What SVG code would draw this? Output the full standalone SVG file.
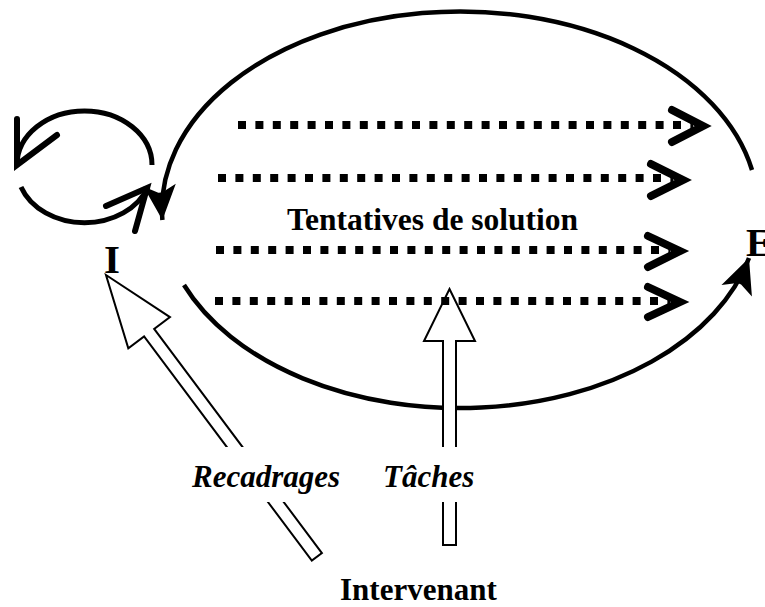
<svg xmlns="http://www.w3.org/2000/svg" width="765" height="607" viewBox="0 0 765 607">
<defs>
<style>
.arc{fill:none;stroke:#000;stroke-width:4.5}
.loop{fill:none;stroke:#000;stroke-width:5}
.barb{fill:none;stroke:#000;stroke-width:6;stroke-linecap:round}
.dots{fill:none;stroke:#000;stroke-width:8;stroke-dasharray:8 9.4}
.chev{fill:none;stroke:#000;stroke-width:8;stroke-linecap:round;stroke-linejoin:miter}
.hollow{fill:#fff;stroke:#000;stroke-width:2;stroke-linejoin:miter}
.lbl{font-family:"Liberation Serif","Times New Roman",serif;font-weight:bold;fill:#000}
.it{font-style:italic}
</style>
<marker id="stealth" markerUnits="userSpaceOnUse" markerWidth="40" markerHeight="40" refX="0" refY="0" viewBox="-30 -16 32 32" orient="auto" overflow="visible">
<path d="M0,0 L-28,-13 L-22,-1.5 L-22,1.5 L-28,13 Z" fill="#000"/>
</marker>
</defs>
<g id="connectors">
<path id="ellipse-top" class="arc" d="M 752 170 A 298 198 0 0 0 162.4 220" marker-end="url(#stealth)"/>
<path id="ellipse-bottom" class="arc" d="M 184 285 A 298 198 0 0 0 749 258" marker-end="url(#stealth)"/>
<g id="loop">
<path class="loop" d="M 152 165 A 67.5 54 0 0 0 17 165"/>
<path class="barb" d="M 17 119 L 17 165 L 57 135"/>
<path class="loop" d="M 21 187 A 67.5 54 0 0 0 148 187"/>
<path class="barb" d="M 106 206 L 147 188 L 135 231"/>
</g>
<g id="arrow-recadrages" transform="translate(106 275) rotate(-36.8)">
<polygon class="hollow" points="0,0 26,72 6.3,72 6.3,352 -6.3,352 -6.3,72 -26,72"/>
</g>
<g id="arrow-taches">
<polygon class="hollow" points="449.5,289 475,341 456,341 456,545 443,545 443,341 424,341"/>
</g>
<rect x="180" y="447" width="310" height="55" fill="#fff"/>
<g id="tentatives">
<path class="dots" d="M 238 125 H 693"/>
<path class="chev" d="M 672 110 L 703 126 L 672 142"/>
<path class="dots" d="M 218 178 H 673"/>
<path class="chev" d="M 651 164 L 683 180 L 651 196"/>
<path class="dots" d="M 216 250 H 670"/>
<path class="chev" d="M 648 236 L 680 251 L 648 267"/>
<path class="dots" d="M 215 301 H 670"/>
<path class="chev" d="M 648 287 L 680 302 L 648 317"/>
</g>
</g>
<g id="node-I"><text class="lbl" x="104" y="273" font-size="41">I</text></g>
<g id="node-E"><text class="lbl" x="746" y="256" font-size="40">E</text></g>
<g id="node-tentatives"><text class="lbl" x="287" y="230" font-size="31.5">Tentatives de solution</text></g>
<g id="node-recadrages"><text class="lbl it" x="192" y="487" font-size="31">Recadrages</text></g>
<g id="node-taches"><text class="lbl it" x="383" y="487" font-size="31">Tâches</text></g>
<g id="node-intervenant"><text class="lbl" x="340" y="600" font-size="31">Intervenant</text></g>
</svg>
